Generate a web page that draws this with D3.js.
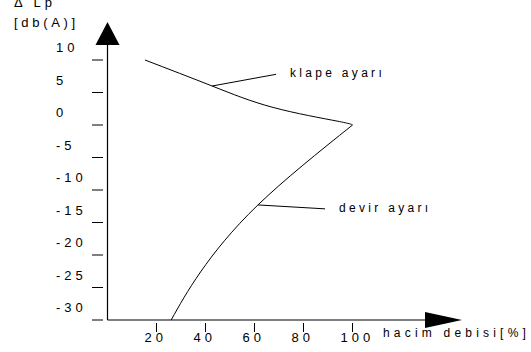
<!DOCTYPE html>
<html>
<head>
<meta charset="utf-8">
<script src="https://cdn.jsdelivr.net/npm/d3@7"></script>
<style>
  body { margin: 0; background: #fff; }
  text { font-family: "Liberation Sans", Arial, sans-serif; fill: #000; }
</style>
</head>
<body>
<div id="chart"></div>
<script>
// data
const yTicks = [10, 5, 0, -5, -10, -15, -20, -25, -30];
const xTicks = [20, 40, 60, 80, 100];

// klape ayarı (damper control): [flow %, dB]
const klapeData = [[15.3, 10], [42.7, 6], [67.6, 2.7], [93.7, 0.6], [100, 0]];
// devir ayarı (speed control)
const devirData = [[100, 0], [61.4, -12.3], [38, -22.6], [26, -30]];

// labels: [curve point, label point, text]
const notes = [
    { from: [42.7, 6], to: [68.8, 7.8], text: "klape ayarı" },
    { from: [61.4, -12.3], to: [88.8, -12.9], text: "devir ayarı" }
];

const width = 531, height = 352;

const svg = d3.select("#chart").append("svg")
    .attr("width", width)
    .attr("height", height);

const x = d3.scaleLinear().domain([0, 100]).range([107.5, 352.5]);
const y = d3.scaleLinear().domain([-30, 10]).range([320, 60]);

const x0 = x(0), y0 = y(-30);

// axes lines
svg.append("line")
    .attr("x1", x0).attr("x2", x0)
    .attr("y1", y0).attr("y2", 44)
    .attr("stroke", "#000").attr("stroke-width", 1.2);
svg.append("line")
    .attr("x1", x0).attr("x2", 426)
    .attr("y1", y0).attr("y2", y0)
    .attr("stroke", "#000").attr("stroke-width", 1.2);

// arrow heads
svg.append("path")
    .attr("d", `M${x0},22 L${x0 + 12},45 L${x0 - 12},45 Z`)
    .attr("fill", "#000");
svg.append("path")
    .attr("d", `M425,312 L462,320 L425,328 Z`)
    .attr("fill", "#000");

// y ticks and labels
svg.append("g").selectAll("line")
    .data(yTicks)
    .join("line")
    .attr("x1", 92).attr("x2", 103)
    .attr("y1", d => y(d)).attr("y2", d => y(d))
    .attr("stroke", "#000");

svg.append("g").selectAll("text")
    .data(yTicks)
    .join("text")
    .attr("x", 56)
    .attr("y", d => y(d) - 8)
    .attr("font-size", 13)
    .attr("letter-spacing", 4)
    .text(d => d);

// x ticks and labels
svg.append("g").selectAll("line")
    .data(xTicks)
    .join("line")
    .attr("x1", d => x(d)).attr("x2", d => x(d))
    .attr("y1", 323).attr("y2", 332)
    .attr("stroke", "#000");

svg.append("g").selectAll("text")
    .data(xTicks)
    .join("text")
    .attr("x", d => x(d) - 12)
    .attr("y", 342)
    .attr("font-size", 13)
    .attr("letter-spacing", 4)
    .text(d => d);

// axis titles
svg.append("text")
    .attr("x", 383).attr("y", 337)
    .attr("font-size", 12)
    .attr("letter-spacing", 4.2)
    .text("hacim debisi[%]");

svg.append("text")
    .attr("x", 14).attr("y", 7)
    .attr("font-size", 13)
    .attr("letter-spacing", 4)
    .text("Δ Lp");

svg.append("text")
    .attr("x", 14).attr("y", 27)
    .attr("font-size", 13)
    .attr("letter-spacing", 3.7)
    .text("[db(A)]");

// curves
const line = d3.line()
    .x(d => x(d[0]))
    .y(d => y(d[1]))
    .curve(d3.curveNatural);

[klapeData, devirData].forEach(data => {
    svg.append("path")
        .attr("d", line(data))
        .attr("fill", "none")
        .attr("stroke", "#000")
        .attr("stroke-width", 1);
});

// leader lines and labels
notes.forEach(n => {
    svg.append("line")
        .attr("x1", x(n.from[0])).attr("y1", y(n.from[1]))
        .attr("x2", x(n.to[0])).attr("y2", y(n.to[1]))
        .attr("stroke", "#000");
    svg.append("text")
        .attr("x", x(n.to[0]) + 14)
        .attr("y", y(n.to[1]) + 3)
        .attr("font-size", 12)
        .attr("letter-spacing", 3.3)
        .text(n.text);
});
</script>
</body>
</html>
